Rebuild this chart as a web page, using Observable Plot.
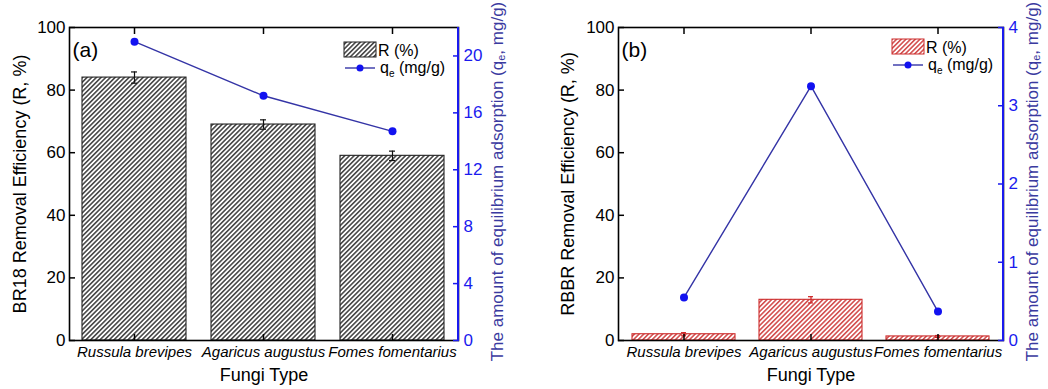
<!DOCTYPE html>
<html><head><meta charset="utf-8">
<script src="https://cdn.jsdelivr.net/npm/d3@7"></script>
<script src="https://cdn.jsdelivr.net/npm/@observablehq/plot@0.6"></script>
<style>
body{margin:0;background:#fff;}
#wrap{display:flex;width:1048px;height:389px;}
</style></head><body><div id="wrap"></div>
<script>
const categories = ["Russula brevipes", "Agaricus augustus", "Fomes fomentarius"];
// Panel (a): BR18
const removalA = [84, 69, 59];
const errA = [1.8, 1.5, 1.5];
const qeA = [21.0, 17.2, 14.7];
const qTicksA = [0, 4, 8, 12, 16, 20];
// Panel (b): RBBR
const removalB = [2.0, 13.0, 1.3];
const errB = [0.5, 1.0, 0.3];
const qeB = [0.55, 3.25, 0.37];
const qTicksB = [0, 1, 2, 3, 4];
const yTicks = [0, 20, 40, 60, 80, 100];

const FONT = "'Liberation Sans', Arial, Helvetica, sans-serif";
const LINE_C = "#3434a6", DOT_C = "#1212f0", AXIS_R = "#1a1aee", TITLE_R = "#3a3aa0";

function makePanel(cfg) {
  const W = 524, H = 389, mt = 27, mb = 49;
  const data = categories.map((c, i) => ({cat: c, r: cfg.removal[i], e: cfg.err[i], q: cfg.qe[i]}));
  const k = 100 / cfg.qMax;
  const plot = Plot.plot({
    width: W, height: H,
    marginLeft: cfg.ml, marginRight: cfg.mr, marginTop: mt, marginBottom: mb,
    style: {fontFamily: FONT, fontSize: "16px", color: "#000", background: "transparent", overflow: "visible"},
    x: {type: "band", domain: categories, paddingInner: 0.19, paddingOuter: 0.1},
    y: {domain: [0, 100]},
    marks: [
      Plot.barY(data, {x: "cat", y: "r", fill: `url(#${cfg.pid})`, stroke: cfg.barStroke, strokeWidth: 1.1}),
      Plot.ruleX(data, {x: "cat", y1: d => d.r - d.e, y2: d => d.r + d.e, stroke: cfg.errColor, strokeWidth: 1.2}),
      Plot.tickY(data, {x: "cat", y: d => d.r + d.e, stroke: cfg.errColor, strokeWidth: 1.2, insetLeft: 49, insetRight: 49}),
      Plot.tickY(data, {x: "cat", y: d => d.r - d.e, stroke: cfg.errColor, strokeWidth: 1.2, insetLeft: 49, insetRight: 49}),
      Plot.line(data, {x: "cat", y: d => d.q * k, stroke: LINE_C, strokeWidth: 1.4}),
      Plot.dot(data, {x: "cat", y: d => d.q * k, fill: DOT_C, r: 4}),
      Plot.frame({stroke: "#000", strokeWidth: 1.6}),
      Plot.axisY(yTicks, {anchor: "left", tickSize: -6, tickPadding: 10, fontSize: 17, label: null, strokeWidth: 1.5}),
      Plot.axisY(cfg.qTicks.map(t => t * k), {anchor: "right", tickSize: -6, tickPadding: 11, fontSize: 17, label: null,
        tickFormat: d => String(Math.round(d / k * 100) / 100), color: AXIS_R, strokeWidth: 1.5}),
      Plot.axisX({anchor: "bottom", tickSize: -6, tickPadding: 12, fontSize: 15, fontStyle: "italic", label: null, strokeWidth: 1.5}),
      Plot.axisX({anchor: "top", tickSize: -6, tickFormat: () => "", label: null, strokeWidth: 1.5}),
      Plot.text(["Fungi Type"], {frameAnchor: "bottom", dy: 40, text: d => d, fontSize: 18, textAnchor: "middle"}),
      Plot.text([cfg.leftTitle], {frameAnchor: "left", rotate: -90, dx: cfg.ltOffset, text: d => d, fontSize: 18, textAnchor: "middle"}),
      Plot.text([cfg.tag], {frameAnchor: "top-left", dx: 3, dy: 15, text: d => d, fontSize: 21, textAnchor: "start"})
    ]
  });

  const svg = d3.select(plot);
  const fr = W - cfg.mr, fb = H - mb;
  // hatch pattern
  const defs = svg.insert("defs", ":first-child");
  const pat = defs.append("pattern").attr("id", cfg.pid).attr("patternUnits", "userSpaceOnUse")
    .attr("width", 3.3).attr("height", 3.3).attr("patternTransform", "rotate(45)");
  pat.append("rect").attr("width", 3.3).attr("height", 3.3).attr("fill", "#fff");
  pat.append("line").attr("x1", 0.8).attr("y1", 0).attr("x2", 0.8).attr("y2", 3.3)
    .attr("stroke", cfg.hatch).attr("stroke-width", 1.35);
  // blue right axis line
  svg.append("line").attr("x1", fr).attr("x2", fr).attr("y1", mt).attr("y2", fb)
    .attr("stroke", AXIS_R).attr("stroke-width", 2);
  // right title with subscript
  const rt = svg.append("text").attr("transform", `translate(${fr + cfg.rtOffset},${(mt + fb) / 2 - 2}) rotate(-90)`)
    .attr("text-anchor", "middle").attr("dominant-baseline", "central")
    .attr("font-family", FONT).attr("font-size", 17).attr("fill", TITLE_R);
  rt.append("tspan").text("The amount of equilibrium adsorption (q");
  rt.append("tspan").attr("font-size", 11).attr("dy", 4).text("e");
  rt.append("tspan").attr("dy", -4).text(", mg/g)");
  // legend
  const g = svg.append("g").attr("font-family", FONT).attr("font-size", 16).attr("text-anchor", "start");
  const x0 = fr - cfg.legDx, y0 = cfg.legY;
  g.append("rect").attr("x", x0).attr("y", y0).attr("width", 32).attr("height", 15)
    .attr("fill", `url(#${cfg.pid})`).attr("stroke", cfg.barStroke).attr("stroke-width", 1);
  g.append("text").attr("x", x0 + 34).attr("y", y0 + 14).text("R (%)");
  g.append("line").attr("x1", x0 + 1).attr("x2", x0 + 31).attr("y1", y0 + 26).attr("y2", y0 + 26)
    .attr("stroke", LINE_C).attr("stroke-width", 1.4);
  g.append("circle").attr("cx", x0 + 16).attr("cy", y0 + 26).attr("r", 3.5).attr("fill", DOT_C);
  const lt = g.append("text").attr("x", x0 + 36).attr("y", y0 + 31);
  lt.append("tspan").text("q");
  lt.append("tspan").attr("font-size", 10).attr("dy", 4).text("e");
  lt.append("tspan").attr("dy", -4).text(" (mg/g)");
  return plot;
}

const wrap = document.getElementById("wrap");
wrap.appendChild(makePanel({
  removal: removalA, err: errA, qe: qeA, qMax: 22, qTicks: qTicksA,
  ml: 69, mr: 66, pid: "hatchA", hatch: "#262626", barStroke: "#222", errColor: "#111",
  leftTitle: "BR18 Removal Efficiency (R, %)", ltOffset: -49, rtOffset: 39, tag: "(a)",
  legDx: 114, legY: 42
}));
wrap.appendChild(makePanel({
  removal: removalB, err: errB, qe: qeB, qMax: 4, qTicks: qTicksB,
  ml: 94, mr: 45, pid: "hatchB", hatch: "#cc3030", barStroke: "#cc2a2a", errColor: "#cc2222",
  leftTitle: "RBBR Removal Efficiency (R, %)", ltOffset: -50, rtOffset: 29, tag: "(b)",
  legDx: 111, legY: 39
}));
</script></body></html>
